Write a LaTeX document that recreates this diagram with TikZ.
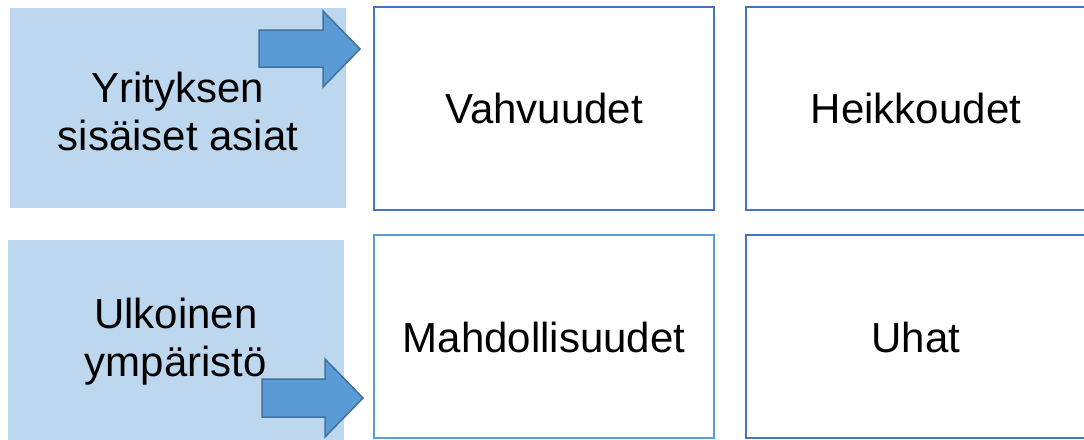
\documentclass[tikz,border=0pt]{standalone}
\usepackage{fontspec}
\setmainfont{Liberation Sans}
\definecolor{paleblue}{HTML}{BDD7EE}
\definecolor{darkblue}{HTML}{4472C4}
\definecolor{midblue}{HTML}{5B9BD5}
\definecolor{arrowedge}{HTML}{41719C}
\begin{document}
\begin{tikzpicture}[x=1pt,y=-1pt,
  label/.style={font=\fontsize{42}{48}\selectfont, align=center, text=black},
  panel/.style={fill=paleblue, draw=none},
  quad/.style={fill=white, line width=2pt},
  bigarrow/.style={fill=midblue, draw=arrowedge, line width=1.5pt, line join=miter}]
\useasboundingbox (0,0) rectangle (1084,439);
% left panels
\fill[panel] (10,8) rectangle (346,208);
\fill[panel] (8,240) rectangle (344,445);
\node[label] (inner) at (178,111) {Yrityksen\\sisäiset asiat};
\node[label] (outer) at (176,342) {Ulkoinen\\ympäristö};
% quadrants
\draw[quad, draw=darkblue] (374,7) rectangle (714,210);
\draw[quad, draw=darkblue] (746,7) rectangle (1090,210);
\draw[quad, draw=midblue] (374,235) rectangle (714,438);
\draw[quad, draw=darkblue] (746,235) rectangle (1090,438);
\node[label] (s) at (544,108) {Vahvuudet};
\node[label] (w) at (916,108) {Heikkoudet};
\node[label] (o) at (544,337) {Mahdollisuudet};
\node[label] (t) at (916,337) {Uhat};
% block arrows
\draw[bigarrow] (259,30) -- (323,30) -- (323,11) -- (360,49) -- (323,87) -- (323,67) -- (259,67) -- cycle;
\draw[bigarrow] (262,379) -- (325,379) -- (325,359) -- (363,398) -- (325,437) -- (325,417) -- (262,417) -- cycle;
\end{tikzpicture}
\end{document}
